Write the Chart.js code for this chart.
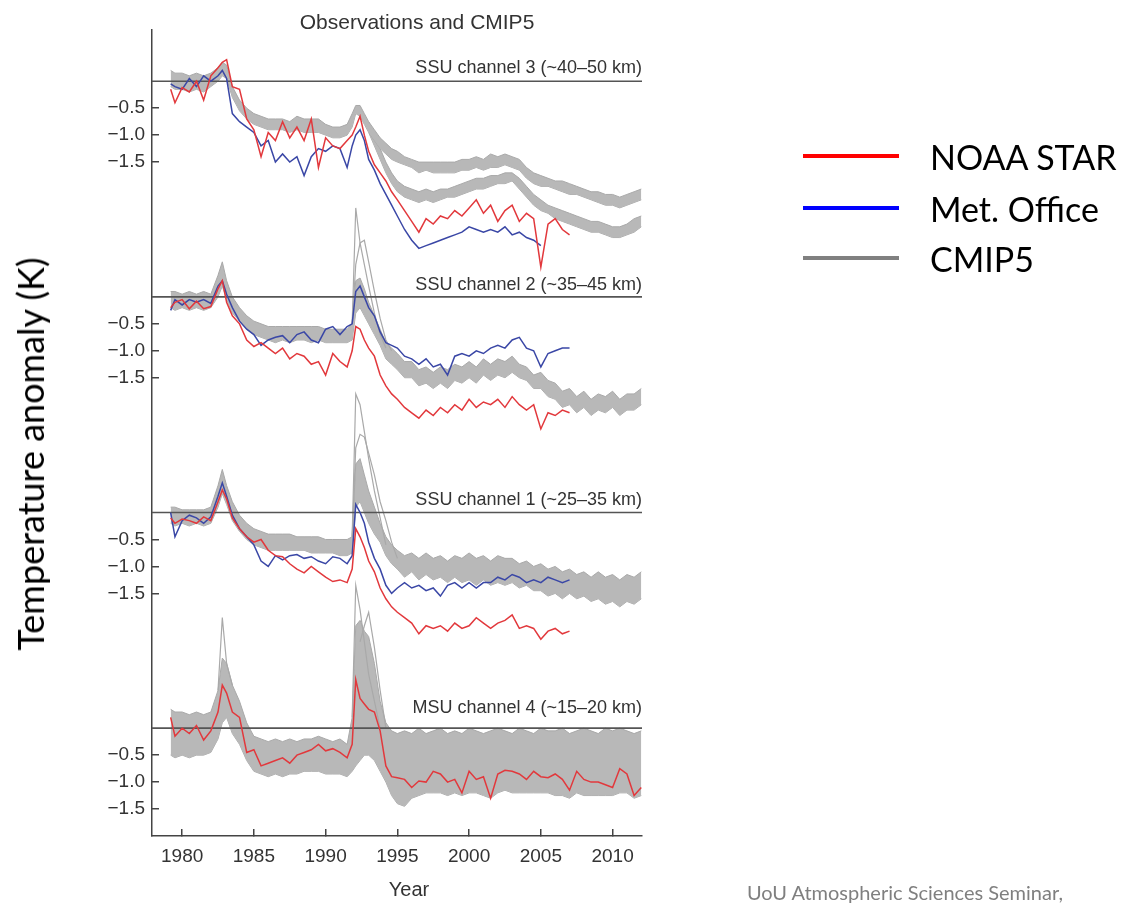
<!DOCTYPE html>
<html>
<head>
<meta charset="utf-8">
<title>Observations and CMIP5</title>
<script src="https://cdn.jsdelivr.net/npm/chart.js@4.4.1/dist/chart.umd.min.js"></script>
<style>
  html, body { margin:0; padding:0; background:#fff; }
  #wrap { position:relative; width:1121px; height:903px; overflow:hidden; }
  #c { position:absolute; left:0; top:0; }
  .ytitle { position:absolute; left:30px; top:454px; transform:translate(-50%,-50%) rotate(-90deg);
            white-space:nowrap; font:36px Lato, 'Open Sans', sans-serif; color:#000; }
  .leg-item { position:absolute; left:803px; height:40px; display:flex; align-items:center;
              white-space:nowrap; font:34px Lato, 'Open Sans', sans-serif; color:#000; }
  .leg-line { width:96px; height:4px; margin-right:31px; }
  .footer { position:absolute; left:747px; top:880px; white-space:nowrap;
            font:20px Lato, 'Open Sans', sans-serif; color:#7f7f7f; }
</style>
</head>
<body>
<div id="wrap">
  <canvas id="c" width="1121" height="903"></canvas>
  <div class="ytitle">Temperature anomaly (K)</div>
  <div id="legend"></div>
  <div class="footer">UoU Atmospheric Sciences Seminar,</div>
</div>
<script>
/* ============================================================
   Observations and CMIP5 — stratospheric temperature anomalies
   4 channels stacked on one y axis, each shifted by its offset
   ============================================================ */

Chart.defaults.font.family = "'Liberation Sans', Arial, sans-serif";
Chart.defaults.color = '#333';

// time grid (years), denser around El Chichon and Pinatubo
const years = [1979.2,1979.5,1980.0,1980.5,1981.0,1981.5,1982.0,1982.5,1982.8,1983.1,
  1983.5,1984.0,1984.5,1985.0,1985.5,1986.0,1986.5,1987.0,1987.5,1988.0,
  1988.5,1989.0,1989.5,1990.0,1990.5,1991.0,1991.5,1991.85,1992.1,1992.4,
  1992.7,1993.0,1993.4,1993.8,1994.2,1994.6,1995.0,1995.5,1996.0,1996.5,
  1997.0,1997.5,1998.0,1998.5,1999.0,1999.5,2000.0,2000.5,2001.0,2001.5,
  2002.0,2002.5,2003.0,2003.5,2004.0,2004.5,2005.0,2005.5,2006.0,2006.5,
  2007.0,2007.5,2008.0,2008.5,2009.0,2009.5,2010.0,2010.5,2011.0,2011.5,2012.0];
const yearsLate = years.slice(31); // 2nd CMIP5 group of channel 3 splits off in 1993

// ---- SSU channel 3 ----
const ch3Star = [-0.15,-0.4,-0.12,-0.2,0.0,-0.35,0.1,0.25,0.35,0.4,
  -0.1,-0.15,-0.7,-0.9,-1.4,-0.95,-1.1,-0.75,-1.05,-0.85,
  -1.1,-0.7,-1.6,-1.05,-1.2,-1.25,-1.1,-1.0,-0.85,-0.65,
  -1.0,-1.3,-1.55,-1.7,-1.85,-2.05,-2.2,-2.4,-2.6,-2.8,
  -2.55,-2.65,-2.5,-2.55,-2.4,-2.5,-2.35,-2.2,-2.45,-2.3,
  -2.6,-2.4,-2.3,-2.6,-2.45,-2.55,-3.45,-2.65,-2.55,-2.75,-2.85];
const ch3Met = [-0.05,-0.1,-0.15,0.05,-0.1,0.1,0.0,0.1,0.2,0.05,
  -0.6,-0.75,-0.85,-0.95,-1.2,-1.1,-1.5,-1.35,-1.5,-1.4,
  -1.75,-1.4,-1.25,-1.3,-1.2,-1.25,-1.6,-1.2,-1.0,-0.9,
  -1.1,-1.45,-1.65,-1.9,-2.1,-2.3,-2.5,-2.75,-2.95,-3.1,
  -3.05,-3.0,-2.95,-2.9,-2.85,-2.8,-2.7,-2.75,-2.8,-2.75,
  -2.8,-2.7,-2.85,-2.8,-2.9,-2.95,-3.05];
const ch3GrayHi = [0.2,0.15,0.15,0.1,0.15,0.1,0.15,0.25,0.35,0.3,
  -0.1,-0.35,-0.5,-0.6,-0.65,-0.7,-0.7,-0.7,-0.75,-0.65,
  -0.7,-0.7,-0.7,-0.8,-0.85,-0.85,-0.8,-0.6,-0.45,-0.45,
  -0.6,-0.75,-0.9,-1.05,-1.15,-1.25,-1.3,-1.4,-1.45,-1.5,
  -1.5,-1.5,-1.5,-1.5,-1.5,-1.45,-1.45,-1.4,-1.45,-1.35,
  -1.4,-1.35,-1.4,-1.45,-1.6,-1.7,-1.75,-1.8,-1.85,-1.85,
  -1.9,-1.95,-2.0,-2.05,-2.05,-2.1,-2.1,-2.15,-2.1,-2.05,-2.0];
const ch3GrayLo = [-0.1,-0.15,-0.15,-0.2,-0.15,-0.2,-0.1,0.0,0.1,0.05,
  -0.3,-0.55,-0.7,-0.8,-0.85,-0.9,-0.9,-0.9,-0.95,-0.9,
  -0.95,-0.95,-0.95,-1.0,-1.05,-1.05,-1.0,-0.85,-0.6,-0.65,
  -0.8,-0.95,-1.1,-1.25,-1.35,-1.45,-1.5,-1.55,-1.6,-1.7,
  -1.65,-1.7,-1.7,-1.7,-1.7,-1.65,-1.65,-1.6,-1.65,-1.6,
  -1.6,-1.55,-1.6,-1.65,-1.8,-1.9,-1.95,-1.95,-2.0,-2.05,
  -2.1,-2.1,-2.15,-2.2,-2.25,-2.3,-2.3,-2.35,-2.3,-2.25,-2.2];
const ch3GrayHiB = [-0.75,-1.0,-1.25,-1.5,-1.7,-1.85,-1.95,-2.0,-2.05,
  -2.0,-2.05,-2.0,-2.0,-1.95,-1.9,-1.85,-1.8,-1.8,-1.75,
  -1.75,-1.7,-1.7,-1.8,-1.95,-2.1,-2.2,-2.3,-2.35,-2.4,
  -2.45,-2.5,-2.55,-2.6,-2.6,-2.65,-2.7,-2.7,-2.65,-2.55,-2.5];
const ch3GrayLoB = [-0.95,-1.2,-1.45,-1.7,-1.9,-2.05,-2.15,-2.2,-2.25,
  -2.2,-2.25,-2.2,-2.15,-2.15,-2.1,-2.05,-2.0,-2.0,-1.95,
  -1.9,-1.9,-1.85,-2.0,-2.15,-2.3,-2.4,-2.45,-2.55,-2.6,
  -2.65,-2.7,-2.75,-2.8,-2.8,-2.85,-2.9,-2.9,-2.85,-2.8,-2.7];

// ---- SSU channel 2 ----
const ch2Star = [-0.2,-0.1,-0.05,-0.22,-0.08,-0.22,-0.18,0.15,0.3,-0.1,
  -0.35,-0.5,-0.8,-0.92,-0.85,-0.95,-1.05,-0.95,-1.15,-1.05,
  -1.1,-1.25,-1.2,-1.45,-1.05,-1.2,-1.3,-1.0,-0.55,-0.6,
  -0.8,-0.95,-1.1,-1.45,-1.65,-1.8,-1.9,-2.05,-2.15,-2.25,
  -2.1,-2.2,-2.05,-2.15,-2.0,-2.1,-1.9,-2.05,-1.95,-2.0,
  -1.9,-2.05,-1.85,-2.0,-2.1,-2.0,-2.45,-2.15,-2.2,-2.1,-2.15];
const ch2Met = [-0.25,-0.05,-0.15,-0.05,-0.1,-0.05,-0.12,0.2,0.3,0.05,
  -0.2,-0.45,-0.6,-0.7,-0.9,-0.8,-0.75,-0.72,-0.85,-0.7,
  -0.65,-0.8,-0.85,-0.6,-0.55,-0.7,-0.55,-0.5,0.1,0.2,
  0.0,-0.2,-0.35,-0.65,-0.85,-0.9,-0.95,-1.1,-1.15,-1.25,
  -1.15,-1.3,-1.25,-1.45,-1.1,-1.05,-1.1,-1.0,-1.05,-0.95,
  -0.9,-0.95,-0.8,-0.75,-0.95,-1.0,-1.3,-1.05,-1.0,-0.95,-0.95];
const ch2GrayHi = [0.1,0.1,0.05,0.1,0.05,0.1,0.05,0.4,0.65,0.3,
  0.0,-0.2,-0.35,-0.45,-0.5,-0.55,-0.55,-0.55,-0.55,-0.55,
  -0.55,-0.55,-0.55,-0.6,-0.6,-0.6,-0.6,-0.5,0.3,0.35,
  0.15,-0.1,-0.35,-0.6,-0.85,-0.95,-1.05,-1.2,-1.2,-1.35,
  -1.3,-1.4,-1.3,-1.35,-1.25,-1.3,-1.2,-1.3,-1.15,-1.25,
  -1.15,-1.2,-1.1,-1.25,-1.3,-1.45,-1.4,-1.55,-1.6,-1.75,
  -1.7,-1.85,-1.75,-1.9,-1.8,-1.85,-1.75,-1.9,-1.8,-1.8,-1.7];
const ch2GrayLo = [-0.2,-0.25,-0.2,-0.25,-0.2,-0.25,-0.2,0.0,0.2,-0.05,
  -0.3,-0.45,-0.6,-0.7,-0.75,-0.8,-0.85,-0.8,-0.85,-0.8,
  -0.8,-0.85,-0.8,-0.85,-0.85,-0.85,-0.85,-0.8,-0.3,-0.2,
  -0.35,-0.5,-0.7,-0.9,-1.15,-1.25,-1.35,-1.5,-1.5,-1.65,
  -1.6,-1.7,-1.6,-1.7,-1.55,-1.6,-1.5,-1.6,-1.45,-1.55,
  -1.45,-1.5,-1.4,-1.5,-1.55,-1.7,-1.7,-1.85,-1.9,-2.05,
  -2.0,-2.15,-2.05,-2.2,-2.1,-2.15,-2.05,-2.2,-2.1,-2.1,-2.0];
const ch2SpikeYrsA = [1991.85,1992.1,1992.4,1992.7,1993.0,1993.4,1993.8,1994.2];
const ch2SpikeA = [-0.5,1.65,1.0,0.6,0.2,-0.3,-0.7,-0.95];
const ch2SpikeYrsB = [1991.85,1992.1,1992.4,1992.7,1993.0,1993.4,1993.8,1994.2,1994.6];
const ch2SpikeB = [-0.5,0.6,1.0,1.05,0.65,0.1,-0.4,-0.8,-1.0];

// ---- SSU channel 1 ----
const ch1Star = [-0.1,-0.2,-0.12,-0.15,-0.2,-0.08,-0.15,0.2,0.42,0.25,
  -0.1,-0.3,-0.45,-0.55,-0.5,-0.7,-0.8,-0.82,-0.95,-1.05,
  -1.12,-1.0,-1.1,-1.2,-1.28,-1.25,-1.3,-1.05,-0.3,-0.45,
  -0.65,-0.9,-1.1,-1.4,-1.6,-1.75,-1.85,-1.95,-2.05,-2.25,
  -2.1,-2.15,-2.1,-2.2,-2.05,-2.15,-2.1,-1.95,-2.05,-2.15,
  -2.05,-2.0,-1.9,-2.15,-2.1,-2.15,-2.35,-2.2,-2.15,-2.25,-2.2];
const ch1Met = [0.0,-0.45,-0.15,-0.05,-0.1,-0.2,-0.08,0.3,0.55,0.3,
  -0.05,-0.3,-0.45,-0.6,-0.9,-1.0,-0.8,-0.88,-0.8,-0.78,
  -0.85,-0.82,-0.9,-0.95,-0.82,-0.85,-0.95,-0.8,0.15,0.0,
  -0.2,-0.55,-0.85,-1.05,-1.35,-1.5,-1.4,-1.3,-1.4,-1.35,
  -1.45,-1.4,-1.55,-1.35,-1.3,-1.4,-1.3,-1.4,-1.3,-1.3,
  -1.2,-1.25,-1.15,-1.2,-1.3,-1.25,-1.3,-1.2,-1.25,-1.3,-1.25];
const ch1GrayHi = [0.1,0.1,0.05,0.05,0.05,0.05,0.1,0.5,0.8,0.5,
  0.2,-0.05,-0.2,-0.3,-0.35,-0.4,-0.4,-0.4,-0.4,-0.45,
  -0.45,-0.45,-0.45,-0.5,-0.5,-0.5,-0.5,-0.45,0.9,1.0,
  0.7,0.4,0.1,-0.2,-0.45,-0.6,-0.7,-0.8,-0.75,-0.85,
  -0.75,-0.85,-0.8,-0.9,-0.8,-0.85,-0.75,-0.85,-0.8,-0.9,
  -0.8,-0.85,-0.85,-0.95,-0.9,-1.0,-0.95,-1.05,-1.0,-1.1,
  -1.05,-1.15,-1.1,-1.2,-1.1,-1.2,-1.15,-1.25,-1.15,-1.2,-1.1];
const ch1GrayLo = [-0.2,-0.25,-0.2,-0.25,-0.2,-0.25,-0.2,0.1,0.35,0.15,
  -0.15,-0.35,-0.5,-0.6,-0.65,-0.7,-0.7,-0.7,-0.7,-0.7,
  -0.7,-0.75,-0.75,-0.75,-0.75,-0.8,-0.8,-0.75,0.1,0.2,
  0.0,-0.2,-0.4,-0.55,-0.8,-0.95,-1.05,-1.2,-1.1,-1.25,
  -1.15,-1.25,-1.2,-1.3,-1.2,-1.3,-1.25,-1.35,-1.25,-1.35,
  -1.3,-1.35,-1.3,-1.4,-1.35,-1.45,-1.45,-1.55,-1.5,-1.6,
  -1.5,-1.6,-1.55,-1.65,-1.6,-1.7,-1.65,-1.75,-1.65,-1.7,-1.6];
const ch1SpikeYrsA = [1991.85,1992.1,1992.4,1992.7,1993.0,1993.4,1993.8,1994.2];
const ch1SpikeA = [-0.45,2.2,2.0,1.5,1.0,0.4,-0.1,-0.6];
const ch1SpikeYrsB = [1991.85,1992.1,1992.4,1992.7,1993.0,1993.4,1993.8,1994.2,1994.6,1995.0];
const ch1SpikeB = [-0.45,1.2,1.45,1.4,1.1,0.7,0.2,-0.15,-0.55,-0.85];

// ---- MSU channel 4 ----
const ch4Star = [0.2,-0.15,0.0,-0.1,0.05,-0.22,-0.05,0.3,0.8,0.65,
  0.3,0.2,-0.45,-0.4,-0.7,-0.65,-0.6,-0.55,-0.65,-0.5,
  -0.45,-0.4,-0.3,-0.42,-0.38,-0.45,-0.55,-0.3,0.9,0.55,
  0.45,0.35,0.3,-0.05,-0.7,-0.9,-0.92,-0.95,-1.1,-0.98,
  -1.0,-0.8,-0.85,-1.0,-0.95,-1.2,-0.8,-0.95,-0.9,-1.3,
  -0.85,-0.78,-0.8,-0.85,-0.95,-0.8,-0.9,-0.92,-0.85,-0.95,
  -1.15,-0.8,-0.95,-1.0,-1.0,-1.05,-1.1,-0.75,-0.85,-1.25,-1.1];
const ch4GrayHi = [0.35,0.3,0.3,0.25,0.3,0.25,0.3,0.7,1.3,1.2,
  0.8,0.5,0.1,-0.15,-0.2,-0.25,-0.2,-0.25,-0.2,-0.25,
  -0.2,-0.2,-0.15,-0.2,-0.25,-0.2,-0.3,0.2,1.9,2.0,
  1.8,1.7,1.2,0.5,0.1,-0.05,-0.1,-0.05,-0.1,0.0,
  -0.1,-0.05,0.0,-0.1,-0.05,-0.1,0.0,-0.05,-0.1,-0.05,
  0.0,-0.05,-0.1,0.0,-0.05,-0.1,0.0,-0.05,-0.05,0.0,
  -0.1,-0.05,0.0,-0.05,-0.1,0.0,-0.05,0.0,-0.05,-0.1,-0.05];
const ch4GrayLo = [-0.5,-0.55,-0.5,-0.55,-0.5,-0.5,-0.45,-0.2,0.1,0.2,
  -0.1,-0.3,-0.6,-0.8,-0.85,-0.9,-0.85,-0.9,-0.85,-0.85,
  -0.8,-0.8,-0.8,-0.85,-0.85,-0.85,-0.9,-0.8,-0.7,-0.6,
  -0.5,-0.5,-0.6,-0.8,-1.0,-1.25,-1.4,-1.45,-1.3,-1.25,
  -1.2,-1.2,-1.2,-1.25,-1.2,-1.25,-1.2,-1.2,-1.25,-1.3,
  -1.2,-1.15,-1.2,-1.2,-1.2,-1.2,-1.2,-1.2,-1.25,-1.25,
  -1.3,-1.2,-1.25,-1.25,-1.25,-1.25,-1.25,-1.2,-1.2,-1.3,-1.25];
const ch4SpikeYrsA = [1982.5,1982.8,1983.1,1983.5];
const ch4SpikeA = [0.7,2.05,1.2,0.8];
const ch4SpikeYrsB = [1991.85,1992.1,1992.4,1992.7,1993.0,1993.4,1993.8];
const ch4SpikeB = [0.2,2.65,2.2,1.6,1.0,0.5,0.0];
const ch4SpikeYrsC = [1992.4,1992.7,1993.0,1993.4,1993.8,1994.2];
const ch4SpikeC = [1.6,1.9,2.15,1.5,0.7,0.0];

// panels, ticks, labels
const panelNames   = ['SSU channel 3 (~40–50 km)', 'SSU channel 2 (~35–45 km)',
                      'SSU channel 1 (~25–35 km)', 'MSU channel 4 (~15–20 km)'];
const panelOffsets = [12, 8, 4, 0];
const yTickAnoms   = [-0.5, -1.0, -1.5];
const xTicks       = [1980, 1985, 1990, 1995, 2000, 2005, 2010];
const legendItems  = [
  { label: 'NOAA STAR',   color: '#ff0000' },
  { label: 'Met. Office', color: '#0000ff' },
  { label: 'CMIP5',       color: '#808080' }
];

const RED = '#e2383c', BLUE = '#3a47a6', GREY_LINE = '#a9a9a9', GREY_FILL = '#b8b8b8';

const pts = (xs, vals, off) => vals.map((v, i) => ({ x: xs[i], y: v == null ? null : v + off }));

const panels = [
  { off: 12, star: ch3Star, met: ch3Met,
    bands: [[years, ch3GrayHi, ch3GrayLo], [yearsLate, ch3GrayHiB, ch3GrayLoB]], spikes: [] },
  { off: 8, star: ch2Star, met: ch2Met, bands: [[years, ch2GrayHi, ch2GrayLo]],
    spikes: [[ch2SpikeYrsA, ch2SpikeA], [ch2SpikeYrsB, ch2SpikeB]] },
  { off: 4, star: ch1Star, met: ch1Met, bands: [[years, ch1GrayHi, ch1GrayLo]],
    spikes: [[ch1SpikeYrsA, ch1SpikeA], [ch1SpikeYrsB, ch1SpikeB]] },
  { off: 0, star: ch4Star, met: null, bands: [[years, ch4GrayHi, ch4GrayLo]],
    spikes: [[ch4SpikeYrsA, ch4SpikeA], [ch4SpikeYrsB, ch4SpikeB], [ch4SpikeYrsC, ch4SpikeC]] }
];

const datasets = [];
panels.forEach(p => {
  datasets.push({ label: 'NOAA STAR', data: pts(years, p.star, p.off), borderColor: RED, borderWidth: 1.5, order: 0 });
  if (p.met) datasets.push({ label: 'Met. Office', data: pts(years, p.met, p.off), borderColor: BLUE, borderWidth: 1.5, order: 1 });
  // zero line of the panel
  datasets.push({ label: 'zero', data: [{ x: 1977.9, y: p.off }, { x: 2012.05, y: p.off }], borderColor: '#555', borderWidth: 1.6, order: 2 });
  p.spikes.forEach(([xs, v]) => {
    datasets.push({ label: 'CMIP5', data: pts(xs, v, p.off), borderColor: GREY_LINE, borderWidth: 1.2, order: 3 });
  });
  p.bands.forEach(([xs, hi, lo]) => {
    datasets.push({ label: 'CMIP5', data: pts(xs, hi, p.off), borderColor: GREY_LINE, backgroundColor: GREY_FILL, borderWidth: 1, fill: '+1', order: 4 });
    datasets.push({ label: 'CMIP5', data: pts(xs, lo, p.off), borderColor: GREY_LINE, borderWidth: 1, fill: false, order: 4 });
  });
});

// titles and panel names drawn on the canvas
const textPlugin = {
  id: 'panelText',
  afterDraw(chart) {
    const { ctx, chartArea: a, scales: { y } } = chart;
    ctx.save();
    ctx.fillStyle = '#333';
    ctx.textBaseline = 'middle';
    ctx.textAlign = 'right';
    ctx.font = "18px 'Liberation Sans', Arial, sans-serif";
    const gap = [13, 12, 12, 20];
    panelNames.forEach((name, i) => {
      ctx.fillText(name, a.right, y.getPixelForValue(panelOffsets[i]) - gap[i]);
    });
    ctx.textAlign = 'center';
    ctx.font = "21px 'Liberation Sans', Arial, sans-serif";
    ctx.fillText('Observations and CMIP5', 417, 23);
    ctx.font = "20px 'Liberation Sans', Arial, sans-serif";
    ctx.fillText('Year', 409, 890);
    ctx.restore();
  }
};

new Chart(document.getElementById('c'), {
  type: 'line',
  data: { datasets },
  options: {
    responsive: false, animation: false,
    layout: { padding: { top: 30, right: 479, bottom: 0, left: 0 } },
    plugins: { legend: { display: false }, tooltip: { enabled: false } },
    elements: { point: { radius: 0 }, line: { tension: 0 } },
    scales: {
      x: {
        type: 'linear', min: 1977.9, max: 2012.05,
        afterBuildTicks: s => { s.ticks = xTicks.map(v => ({ value: v })); },
        afterFit: s => { s.height = 67; },
        ticks: { autoSkip: false, maxRotation: 0, padding: 16, color: '#333', font: { size: 19 }, callback: v => String(v) },
        grid: { drawOnChartArea: false, drawTicks: true, tickLength: -7, color: '#444', lineWidth: 1.5 },
        border: { display: true, color: '#444', width: 1.5 }
      },
      y: {
        type: 'linear', min: -2.0, max: 12.95,
        afterBuildTicks: s => { s.ticks = panelOffsets.flatMap(o => yTickAnoms.map(a => ({ value: o + a }))); },
        afterFit: s => { s.width = 152; },
        ticks: {
          autoSkip: false, padding: 14, color: '#333', font: { size: 19 },
          callback: v => {
            const off = panelOffsets.find(o => v < o && v > o - 2);
            return '\u2212' + (off - v).toFixed(1);
          }
        },
        grid: { drawOnChartArea: false, drawTicks: true, tickLength: -7, color: '#444', lineWidth: 1.5 },
        border: { display: true, color: '#444', width: 1.5 }
      }
    }
  },
  plugins: [textPlugin]
});

// legend on the right
const centres = [156, 208, 258];
document.getElementById('legend').innerHTML = legendItems.map((it, i) => `
  <div class="leg-item" style="top:${centres[i] - 20}px">
    <span class="leg-line" style="background:${it.color}"></span>${it.label}
  </div>`).join('');
</script>
</body>
</html>
